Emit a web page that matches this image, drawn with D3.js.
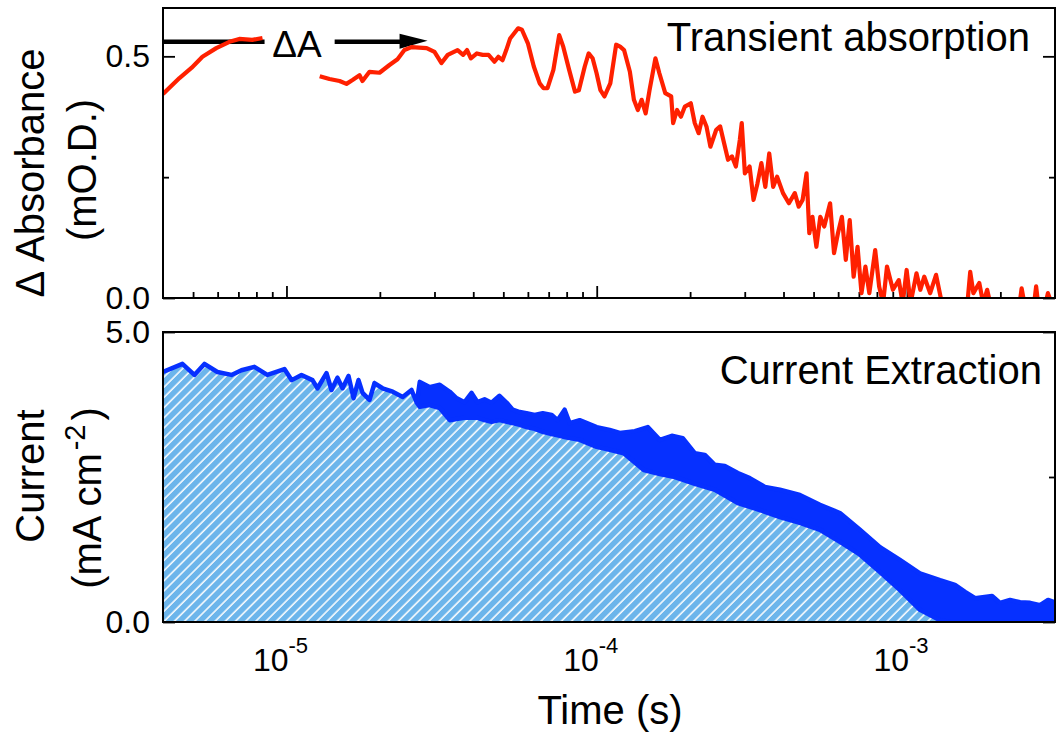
<!DOCTYPE html>
<html><head><meta charset="utf-8">
<script src="https://cdn.jsdelivr.net/npm/d3@7"></script>
<style>
body{margin:0;background:#fff}
svg{display:block}
text{font-family:"Liberation Sans",Arial,Helvetica,sans-serif;fill:#000}
</style>
</head><body>
<svg id="chart" width="1056" height="736"></svg>
<script>
// ---------------- data ----------------
// Transient absorption (mO.D.), early segment
const taTimeEarly = [4.0e-6, 4.52e-6, 4.94e-6, 5.36e-6, 5.94e-6, 6.55e-6, 7.05e-6, 7.76e-6, 8.37e-6];
const taEarly     = [0.422, 0.455, 0.476, 0.499, 0.517, 0.530, 0.536, 0.534, 0.538];

// Transient absorption (mO.D.), main segment
const taTime = [1.28e-5,1.376e-5,1.483e-5,1.561e-5,1.633e-5,1.72e-5,1.758e-5,1.852e-5,1.995e-5,2.148e-5,
  2.28e-5,2.40e-5,2.53e-5,2.83e-5,3.0e-5,3.16e-5,3.31e-5,3.56e-5,3.71e-5,3.82e-5,
  3.93e-5,4.11e-5,4.29e-5,4.48e-5,4.68e-5,4.82e-5,4.97e-5,5.11e-5,5.26e-5,5.58e-5,
  5.74e-5,6.0e-5,6.27e-5,6.55e-5,6.74e-5,6.94e-5,7.25e-5,7.57e-5,7.80e-5,8.15e-5,
  8.51e-5,8.76e-5,9.15e-5,9.42e-5,9.70e-5,9.99e-5,1.028e-4,1.059e-4,1.106e-4,1.155e-4,
  1.190e-4,1.225e-4,1.279e-4,1.318e-4,1.357e-4,1.396e-4,1.438e-4,1.480e-4,1.546e-4,1.592e-4,
  1.663e-4,1.738e-4,1.763e-4,1.815e-4,1.868e-4,1.924e-4,2.010e-4,2.070e-4,2.131e-4,2.193e-4,
  2.258e-4,2.325e-4,2.428e-4,2.500e-4,2.574e-4,2.650e-4,2.729e-4,2.809e-4,2.892e-4,2.934e-4,
  3.003e-4,3.110e-4,3.202e-4,3.297e-4,3.394e-4,3.495e-4,3.598e-4,3.705e-4,3.814e-4,3.985e-4,
  4.164e-4,4.350e-4,4.477e-4,4.609e-4,4.746e-4,4.844e-4,4.958e-4,5.105e-4,5.256e-4,5.411e-4,
  5.652e-4,5.820e-4,5.991e-4,6.169e-4,6.351e-4,6.538e-4,6.731e-4,6.930e-4,7.135e-4,7.346e-4,
  7.562e-4,7.900e-4,8.134e-4,8.375e-4,8.622e-4,9.008e-4,9.410e-4,9.688e-4,9.975e-4,1.027e-3,
  1.073e-3,1.104e-3,1.137e-3,1.188e-3,1.241e-3,1.296e-3,1.374e-3,1.499e-3,1.566e-3,1.599e-3,
  1.637e-3,1.710e-3,1.761e-3,1.813e-3,1.866e-3,2.067e-3,2.308e-3,2.342e-3,2.390e-3,2.570e-3,
  2.608e-3,2.646e-3,2.805e-3,2.846e-3,2.913e-3,3.0e-3];
const taValues = [0.459,0.453,0.449,0.443,0.451,0.461,0.449,0.468,0.466,0.482,
  0.494,0.513,0.519,0.517,0.509,0.486,0.503,0.513,0.503,0.513,
  0.496,0.506,0.503,0.503,0.489,0.499,0.492,0.513,0.537,0.558,
  0.555,0.527,0.479,0.444,0.434,0.434,0.472,0.544,0.520,0.472,
  0.427,0.430,0.479,0.506,0.496,0.465,0.430,0.417,0.444,0.524,
  0.520,0.513,0.468,0.410,0.389,0.410,0.382,0.430,0.496,0.465,
  0.424,0.417,0.362,0.389,0.375,0.396,0.403,0.362,0.341,0.375,
  0.355,0.313,0.348,0.355,0.320,0.286,0.293,0.272,0.327,0.362,
  0.258,0.272,0.203,0.237,0.279,0.230,0.299,0.230,0.251,0.217,
  0.196,0.217,0.189,0.203,0.258,0.134,0.168,0.106,0.168,0.148,
  0.196,0.093,0.134,0.168,0.079,0.161,0.044,0.106,0.010,0.065,
  0.010,0.099,0.024,-0.011,0.065,0.017,0.037,-0.011,0.058,-0.011,
  0.051,0.017,0.044,0.010,0.048,-0.011,-0.025,-0.025,-0.011,0.054,
  0.010,0.031,-0.011,0.017,-0.018,-0.025,-0.011,0.020,-0.011,-0.011,
  0.024,-0.011,-0.008,0.010,-0.008,-0.010];

// Current extraction (mA cm^-2): upper edge of the trace
const ceTopTime = [4.0e-6,4.62e-6,5.05e-6,5.44e-6,5.99e-6,6.65e-6,7.16e-6,7.88e-6,8.68e-6,9.85e-6,
  1.04e-5,1.118e-5,1.213e-5,1.259e-5,1.346e-5,1.397e-5,1.46e-5,1.516e-5,1.585e-5,1.645e-5,
  1.707e-5,1.759e-5,1.852e-5,1.922e-5,2.04e-5,2.20e-5,2.37e-5,2.53e-5,2.63e-5,
  2.69e-5,2.89e-5,3.12e-5,3.36e-5,3.53e-5,3.75e-5,3.95e-5,4.13e-5,4.35e-5,4.58e-5,
  4.86e-5,5.13e-5,5.36e-5,5.65e-5,5.94e-5,6.31e-5,6.70e-5,7.16e-5,7.48e-5,7.88e-5,
  8.18e-5,8.81e-5,1.00e-4,1.101e-4,1.187e-4,1.327e-4,1.461e-4,1.597e-4,1.746e-4,1.894e-4,
  2.071e-4,2.231e-4,2.402e-4,2.588e-4,2.850e-4,3.115e-4,3.483e-4,3.894e-4,4.517e-4,5.242e-4,
  6.080e-4,7.055e-4,8.185e-4,9.493e-4,1.101e-3,1.278e-3,1.428e-3,1.539e-3,1.658e-3,1.881e-3,
  1.995e-3,2.149e-3,2.315e-3,2.494e-3,2.685e-3,2.850e-3,3.0e-3];
const ceTop = [4.31,4.45,4.26,4.45,4.31,4.26,4.34,4.40,4.26,4.36,
  4.17,4.26,4.17,4.03,4.29,4.00,4.21,4.03,4.24,3.86,
  4.17,3.95,3.83,4.12,4.03,3.97,3.88,4.00,3.78,
  4.14,4.05,4.09,3.97,3.86,3.79,3.95,3.79,3.84,3.78,
  3.90,3.78,3.66,3.62,3.60,3.57,3.60,3.57,3.48,3.66,
  3.43,3.48,3.36,3.31,3.26,3.29,3.36,3.14,3.21,3.17,
  2.91,2.88,2.71,2.69,2.57,2.48,2.33,2.28,2.19,2.02,
  1.88,1.59,1.29,1.07,0.84,0.72,0.64,0.52,0.41,0.45,
  0.33,0.38,0.34,0.33,0.29,0.38,0.34];

// Current extraction (mA cm^-2): lower edge of the trace
const ceLowTime = [4.0e-6,4.62e-6,5.05e-6,5.44e-6,5.99e-6,6.65e-6,7.16e-6,7.88e-6,8.68e-6,9.85e-6,
  1.04e-5,1.118e-5,1.213e-5,1.259e-5,1.346e-5,1.397e-5,1.46e-5,1.516e-5,1.585e-5,1.645e-5,
  1.707e-5,1.759e-5,1.852e-5,1.922e-5,2.04e-5,2.20e-5,2.37e-5,2.53e-5,2.63e-5,
  2.69e-5,2.89e-5,3.12e-5,3.36e-5,3.53e-5,3.75e-5,3.95e-5,4.13e-5,4.35e-5,4.58e-5,
  4.86e-5,5.13e-5,5.36e-5,5.65e-5,5.94e-5,6.31e-5,6.70e-5,7.16e-5,7.48e-5,7.88e-5,
  8.18e-5,8.81e-5,1.00e-4,1.101e-4,1.222e-4,1.418e-4,1.597e-4,1.785e-4,2.071e-4,2.402e-4,
  2.850e-4,3.357e-4,3.894e-4,4.517e-4,5.242e-4,6.080e-4,7.055e-4,8.185e-4,9.493e-4,1.101e-3,
  1.278e-3,1.376e-3,3.0e-3];
const ceLow = [4.31,4.45,4.26,4.45,4.31,4.26,4.34,4.40,4.26,4.36,
  4.17,4.26,4.17,4.03,4.29,4.00,4.21,4.03,4.24,3.86,
  4.17,3.95,3.83,4.12,4.03,3.97,3.88,4.00,3.78,
  3.71,3.74,3.69,3.48,3.50,3.52,3.52,3.52,3.48,3.45,
  3.48,3.45,3.43,3.40,3.36,3.33,3.28,3.24,3.22,3.19,
  3.17,3.14,3.02,2.97,2.91,2.62,2.55,2.50,2.38,2.28,
  2.05,1.93,1.81,1.71,1.59,1.38,1.16,0.86,0.55,0.21,
  0.03,0.00,0.00];

// axes / ticks
const timeDomain = [4e-6, 3e-3];
const decadeTicks = [1e-5, 1e-4, 1e-3];
const decadeExponents = ["-5", "-4", "-3"];
const taDomain = [0, 0.6];
const taMajorTicks = [0, 0.5];
const taMinorTicks = [0.25];
const ceDomain = [0, 5];
const ceMajorTicks = [0, 5];
const ceMinorTicks = [2.5];

// annotation (ΔA marker)
const deltaLevel = 0.53;
const deltaLineTimes = [4e-6, 8.5e-6];
const deltaArrowTimes = [1.43e-5, 2.85e-5];
const deltaLabelTime = 9.0e-6;

// ---------------- drawing ----------------
const svg = d3.select("#chart");
const L = 163, R = 1055;
const top1 = 8, bot1 = 298, top2 = 332, bot2 = 622;

const x = d3.scaleLog().domain(timeDomain).range([L, R]);
const yTA = d3.scaleLinear().domain(taDomain).range([bot1, top1]);
const yCE = d3.scaleLinear().domain(ceDomain).range([bot2, top2]);

const minorTimes = [];
[1e-6, 1e-5, 1e-4, 1e-3].forEach(d => { for (let m = 2; m <= 9; m++) { const t = d * m; if (t > timeDomain[0] * 1.01 && t < timeDomain[1] * 0.999) minorTimes.push(t); } });

const defs = svg.append("defs");
defs.append("clipPath").attr("id", "clipTA").append("rect").attr("x", L).attr("y", top1).attr("width", R - L).attr("height", bot1 - top1);
defs.append("clipPath").attr("id", "clipCE").append("rect").attr("x", L).attr("y", top2).attr("width", R - L).attr("height", bot2 - top2);
const hs = 7.2;
const pat = defs.append("pattern").attr("id", "hatch").attr("patternUnits", "userSpaceOnUse")
  .attr("width", hs).attr("height", hs).attr("patternTransform", "rotate(45)");
pat.append("rect").attr("width", hs).attr("height", hs).attr("fill", "#6cb5eb");
pat.append("line").attr("x1", 1).attr("y1", 0).attr("x2", 1).attr("y2", hs).attr("stroke", "#ffffff").attr("stroke-width", 1.5);

svg.append("rect").attr("width", 1056).attr("height", 736).attr("fill", "#fff");

function styleAxis(g) {
  g.select(".domain").remove();
  g.selectAll(".tick line").attr("stroke", "#000").attr("stroke-width", 1.8);
  g.selectAll(".tick text").style("font-size", "32px").attr("fill", "#000");
}

// ---- top panel axes ----
svg.append("g").attr("transform", `translate(0,${bot1})`)
  .call(d3.axisBottom(x).tickValues(decadeTicks).tickSize(-12).tickFormat("")).call(styleAxis);
svg.append("g").attr("transform", `translate(0,${bot1})`)
  .call(d3.axisBottom(x).tickValues(minorTimes).tickSize(-6).tickFormat("")).call(styleAxis);
svg.append("g").attr("transform", `translate(${L},0)`)
  .call(d3.axisLeft(yTA).tickValues(taMajorTicks).tickSize(-12).tickPadding(13).tickFormat(d3.format(".1f"))).call(styleAxis);
svg.append("g").attr("transform", `translate(${L},0)`)
  .call(d3.axisLeft(yTA).tickValues(taMinorTicks).tickSize(-6).tickFormat("")).call(styleAxis);
svg.append("g").attr("transform", `translate(${R},0)`)
  .call(d3.axisRight(yTA).tickValues(taMajorTicks).tickSize(-12).tickFormat("")).call(styleAxis);
svg.append("g").attr("transform", `translate(${R},0)`)
  .call(d3.axisRight(yTA).tickValues(taMinorTicks).tickSize(-6).tickFormat("")).call(styleAxis);

// ΔA annotation
const dy = yTA(deltaLevel);
svg.append("line").attr("x1", x(deltaLineTimes[0])).attr("x2", x(deltaLineTimes[1]))
  .attr("y1", dy).attr("y2", dy).attr("stroke", "#000").attr("stroke-width", 4.5);
const ax1 = x(deltaArrowTimes[0]), ax2 = x(deltaArrowTimes[1]);
svg.append("line").attr("x1", ax1).attr("x2", ax2 - 24).attr("y1", dy).attr("y2", dy).attr("stroke", "#000").attr("stroke-width", 4.5);
svg.append("path").attr("d", `M${ax2 - 28},${dy - 8} L${ax2},${dy - 1} L${ax2 - 28},${dy + 7} Z`).attr("fill", "#000");
svg.append("text").attr("x", x(deltaLabelTime)).attr("y", dy + 15).style("font-size", "37px").text("ΔA");

// red traces
const lineTA = d3.line().x(d => x(d[0])).y(d => yTA(d[1]));
const gTA = svg.append("g").attr("clip-path", "url(#clipTA)");
gTA.append("path").datum(taTimeEarly.map((t, i) => [t, taEarly[i]])).attr("d", lineTA)
  .attr("fill", "none").attr("stroke", "#ff2000").attr("stroke-width", 4.2).attr("stroke-linejoin", "round");
gTA.append("path").datum(taTime.map((t, i) => [t, taValues[i]])).attr("d", lineTA)
  .attr("fill", "none").attr("stroke", "#ff2000").attr("stroke-width", 4.2).attr("stroke-linejoin", "round");

// frame top
svg.append("rect").attr("x", L).attr("y", top1).attr("width", R - L).attr("height", bot1 - top1)
  .attr("fill", "none").attr("stroke", "#000").attr("stroke-width", 2);

svg.append("text").attr("x", 1030).attr("y", 51).attr("text-anchor", "end").style("font-size", "40px").text("Transient absorption");

// ---- bottom panel ----
svg.append("g").attr("transform", `translate(${L},0)`)
  .call(d3.axisLeft(yCE).tickValues(ceMajorTicks).tickSize(-12).tickPadding(13).tickFormat(d3.format(".1f"))).call(styleAxis);
svg.append("g").attr("transform", `translate(${R},0)`)
  .call(d3.axisRight(yCE).tickValues(ceMajorTicks).tickSize(-12).tickFormat("")).call(styleAxis);
svg.append("g").attr("transform", `translate(${R},0)`)
  .call(d3.axisRight(yCE).tickValues(ceMinorTicks).tickSize(-6).tickFormat("")).call(styleAxis);

const gCE = svg.append("g").attr("clip-path", "url(#clipCE)");
const lowPts = ceLowTime.map((t, i) => [t, ceLow[i]]);
const topPts = ceTopTime.map((t, i) => [t, ceTop[i]]);
gCE.append("path").datum(lowPts)
  .attr("d", d3.area().x(d => x(d[0])).y0(yCE(0)).y1(d => yCE(d[1])))
  .attr("fill", "url(#hatch)");
const lineCE = d3.line().x(d => x(d[0])).y(d => yCE(d[1]));
gCE.append("path").datum(topPts.concat(lowPts.slice().reverse()))
  .attr("d", d => lineCE(d) + "Z")
  .attr("fill", "#0630ff").attr("stroke", "#0630ff").attr("stroke-width", 4.5).attr("stroke-linejoin", "round");

svg.append("rect").attr("x", L).attr("y", top2).attr("width", R - L).attr("height", bot2 - top2)
  .attr("fill", "none").attr("stroke", "#000").attr("stroke-width", 2);

svg.append("text").attr("x", 1042).attr("y", 384).attr("text-anchor", "end").style("font-size", "40px").text("Current Extraction");

// x tick labels
const xl = svg.append("g");
decadeTicks.forEach((t, i) => {
  const tx = xl.append("text").attr("x", x(t) - 6).attr("y", 671).attr("text-anchor", "middle").style("font-size", "32px");
  tx.append("tspan").text("10");
  tx.append("tspan").attr("dy", -18).style("font-size", "22px").text(decadeExponents[i]);
});

// axis titles
svg.append("text").attr("x", 610).attr("y", 724).attr("text-anchor", "middle").style("font-size", "40px").text("Time (s)");
svg.append("text").attr("transform", "translate(44,173) rotate(-90)").attr("text-anchor", "middle").style("font-size", "40px").text("Δ Absorbance");
svg.append("text").attr("transform", "translate(96,170) rotate(-90)").attr("text-anchor", "middle").style("font-size", "40px").text("(mO.D.)");
svg.append("text").attr("transform", "translate(44,476) rotate(-90)").attr("text-anchor", "middle").style("font-size", "40px").text("Current");
const ct = svg.append("text").attr("transform", "translate(101,498) rotate(-90)").attr("text-anchor", "middle").style("font-size", "40px");
ct.append("tspan").text("(mA cm");
ct.append("tspan").attr("dy", -16).attr("dx", 3).style("font-size", "29px").text("-2");
ct.append("tspan").attr("dy", 16).attr("dx", 4).text(")");
</script>
</body></html>
